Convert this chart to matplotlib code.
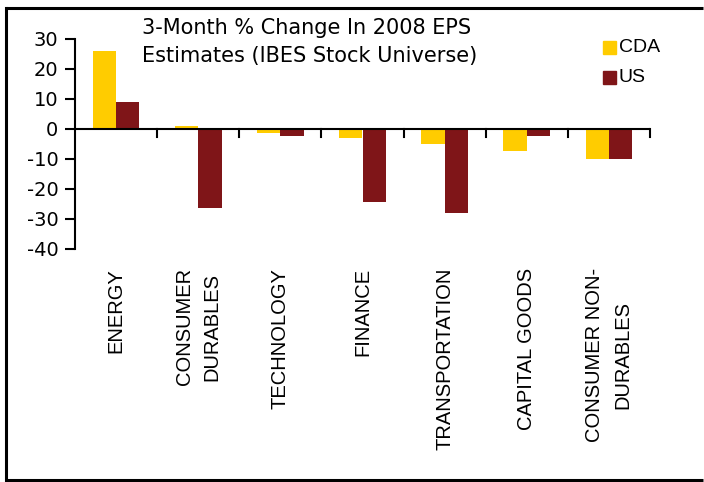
import matplotlib.pyplot as plt
from matplotlib.lines import Line2D
from matplotlib.patches import Rectangle
import numpy as np

categories = ["ENERGY", "CONSUMER\nDURABLES", "TECHNOLOGY", "FINANCE",
              "TRANSPORTATION", "CAPITAL GOODS", "CONSUMER NON-\nDURABLES"]
cda = [26, 1, -1.2, -2.9, -5, -7.3, -10]
us = [8.9, -26.2, -2.3, -24.3, -27.9, -2.3, -10]
yticks = [30, 20, 10, 0, -10, -20, -30, -40]
title_lines = ["3-Month % Change In 2008 EPS", "Estimates (IBES Stock Universe)"]

W, H = 704, 482
fig = plt.figure(figsize=(W / 100, H / 100), dpi=100)

# axes box in pixels: x 75..650, y 39..249
ax = fig.add_axes([75 / W, 1 - 249 / H, (650 - 75) / W, (249 - 39) / H])

x = np.arange(len(categories))
bw = 0.285
ax.bar(x - bw / 2, cda, bw, color="#FFCC00", label="CDA")
ax.bar(x + bw / 2, us, bw, color="#7F1518", label="US")

ax.set_xlim(-0.5, len(categories) - 0.5)
ax.set_ylim(-40, 30)
ax.set_yticks(yticks)
ax.set_yticklabels([str(v) for v in yticks], fontsize=14, family="DejaVu Sans")
ax.tick_params(axis="y", length=7, width=1.5, direction="out", pad=5)

for s in ["top", "right", "bottom"]:
    ax.spines[s].set_visible(False)
ax.spines["left"].set_linewidth(1.5)
ax.axhline(0, color="black", lw=1.5)
for b in np.arange(0.5, len(categories), 1.0):
    ax.plot([b, b], [0, -2.6], color="black", lw=1.5, clip_on=False)
ax.set_xticks([])

for i, lab in enumerate(categories):
    fig.text((75 + (i + 0.5) * (575 / 7)) / W, 1 - 268 / H, lab,
             rotation=90, ha="center", va="top", multialignment="center",
             fontsize=14.5, family="Liberation Sans", linespacing=1.6)

fig.text(142 / W, 1 - 34 / H, title_lines[0], ha="left", va="baseline",
         fontsize=15, family="DejaVu Sans")
fig.text(142 / W, 1 - 62 / H, title_lines[1], ha="left", va="baseline",
         fontsize=15, family="DejaVu Sans")

# legend
fig.patches.append(Rectangle((603 / W, 1 - 54 / H), 13 / W, 13 / H,
                             transform=fig.transFigure, color="#FFCC00"))
fig.patches.append(Rectangle((603 / W, 1 - 84 / H), 13 / W, 13 / H,
                             transform=fig.transFigure, color="#7F1518"))
fig.text(619 / W, 1 - 48 / H, "CDA", ha="left", va="center", fontsize=14, family="Liberation Sans")
fig.text(619 / W, 1 - 78 / H, "US", ha="left", va="center", fontsize=14, family="Liberation Sans")

# outer frame (left, top, bottom)
fig.add_artist(Line2D([6 / W, 6 / W], [1 - 8 / H, 1 - 480 / H], color="black", lw=2.2))
fig.add_artist(Line2D([6 / W, 703 / W], [1 - 8 / H, 1 - 8 / H], color="black", lw=2.2,
                      solid_capstyle="butt"))
fig.add_artist(Line2D([6 / W, 703 / W], [1 - 480 / H, 1 - 480 / H], color="black", lw=2.2,
                      solid_capstyle="butt"))

fig.savefig("out.png", dpi=100)
